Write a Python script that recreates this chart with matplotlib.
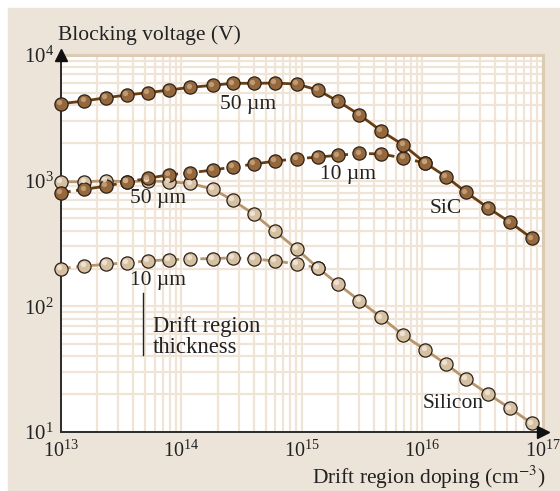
import numpy as np
import matplotlib
matplotlib.use("Agg")
import matplotlib.pyplot as plt
from matplotlib.patches import Rectangle
from matplotlib.lines import Line2D
from matplotlib.transforms import offset_copy, ScaledTranslation

plt.rcParams['font.family'] = ['Liberation Serif', 'DejaVu Serif']
plt.rcParams['mathtext.fontset'] = 'stix'

# ── Data ─────────────────────────────────────────────────────────────
doping = [1.0e13, 1.57e13, 2.37e13, 3.54e13, 5.26e13, 7.9e13, 1.19e14,
          1.82e14, 2.66e14, 4.02e14, 5.96e14, 9.1e14, 1.35e15, 2.0e15,
          3.0e15, 4.56e15, 6.95e15, 1.06e16, 1.57e16, 2.31e16, 3.53e16,
          5.34e16, 8.1e16]

sic_50 = [4096, 4305, 4571, 4805, 5015, 5265, 5530, 5737, 5953, 5953,
          5980, 5874, 5265, 4279, 3347, 2484, 1920, 1380, 1075, 807,
          605, 466, 347]
sic_10 = [801, 852, 906, 974, 1043, 1114, 1156, 1214, 1283, 1355, 1431,
          1493, 1541, 1590, 1649, 1629, 1514, 1380]
si_50 = [980, 980, 998, 980, 998, 980, 952, 857, 701, 539, 397, 285,
         203, 150, 111, 81.6, 59.0, 45.0, 34.7, 26.3, 20.0, 15.4, 11.7]
si_10 = [200, 209, 216, 222, 230, 235, 238, 240, 243, 238, 230, 217, 203]

SIC_LINE, SIC_FILL, SIC_HI = '#6a3d10', '#94683c', '#c9a47c'
SI_LINE, SI_FILL, SI_HI = '#b8966c', '#d6c0a2', '#f3e8da'
PANEL = '#ede4d9'
GRID = '#efe4d6'
TXT = '#222222'

W, H = 560, 491
fig = plt.figure(figsize=(W / 100, H / 100), dpi=100, facecolor='white')
fig.patches.append(Rectangle((8 / W, 0), 1, 1 - 8 / H, transform=fig.transFigure,
                             color=PANEL, zorder=-10))
ax = fig.add_axes([60.7 / W, 1 - 432 / H, (543 - 60.7) / W, (432 - 55) / H])
ax.set_facecolor('white')
ax.set_xscale('log'); ax.set_yscale('log')
ax.set_xlim(1e13, 1e17); ax.set_ylim(10, 1e4)
ax.grid(which='both', color=GRID, lw=1.6, zorder=0)
ax.set_axisbelow(True)
ax.tick_params(which='both', length=0, colors=TXT)
ax.tick_params(axis='x', pad=6, labelsize=14.5)
ax.tick_params(axis='y', pad=5, labelsize=15)
for s in ['top', 'right']:
    ax.spines[s].set_color('#dccab3'); ax.spines[s].set_linewidth(2.2)
for s in ['left', 'bottom']:
    ax.spines[s].set_color('#2a2a2a'); ax.spines[s].set_linewidth(1.4)

# nudge the last x tick label so it stays inside the picture
fig.canvas.draw()
last = ax.get_xticklabels()[-1]
last.set_transform(last.get_transform() + ScaledTranslation(-3 / 100, 0, fig.dpi_scale_trans))

# arrow heads on the two axes
ax.plot([0], [1], marker='^', ms=8, color='#111111', transform=ax.transAxes,
        clip_on=False, zorder=6)
ax.plot([1], [0], marker='>', ms=8, color='#111111', transform=ax.transAxes,
        clip_on=False, zorder=6)

hi = offset_copy(ax.transData, fig=fig, x=-1.3, y=1.3, units='points')

def series(x, y, line, fill, hl, ls):
    ax.plot(x, y, ls=ls, color=line, lw=2.0,
            dashes=(3.6, 2.0) if ls == '--' else (None, None), zorder=3)
    ax.plot(x, y, 'o', ms=9.5, mfc=fill, mec='#2b2017', mew=0.9, zorder=4, clip_on=False)
    ax.plot(x, y, 'o', ms=3.8, mfc=hl, mec='none', alpha=0.85, zorder=5,
            transform=hi, clip_on=False)

series(doping, si_50, SI_LINE, SI_FILL, SI_HI, '-')
series(doping[:len(si_10)], si_10, SI_LINE, SI_FILL, SI_HI, '--')
series(doping[:len(sic_10)], sic_10, SIC_LINE, SIC_FILL, SIC_HI, '--')
series(doping, sic_50, SIC_LINE, SIC_FILL, SIC_HI, '-')

# annotations, placed in figure pixels
fs = 15.5
def label(px, py, s, **kw):
    kw.setdefault('ha', 'center')
    fig.text(px / W, 1 - py / H, s, fontsize=kw.pop('size', fs), va='center',
             color=TXT, **kw)

label(248, 104, '50 µm')
label(347.5, 175, '10 µm')
label(446, 208, 'SiC')
label(158, 199, '50 µm')
label(158, 280, '10 µm')
label(152.7, 337, 'Drift region\nthickness', ha='left', linespacing=1.05, size=16.3)
label(453, 404, 'Silicon')
fig.lines.append(Line2D([143.3 / W, 143.3 / W], [1 - 293 / H, 1 - 355 / H],
                        color=TXT, lw=1.0, transform=fig.transFigure))

label(58, 35, 'Blocking voltage (V)', ha='left')
label(545, 477, 'Drift region doping (cm$^{-3}$)', ha='right')

fig.savefig('out.png', dpi=100, facecolor=fig.get_facecolor())
